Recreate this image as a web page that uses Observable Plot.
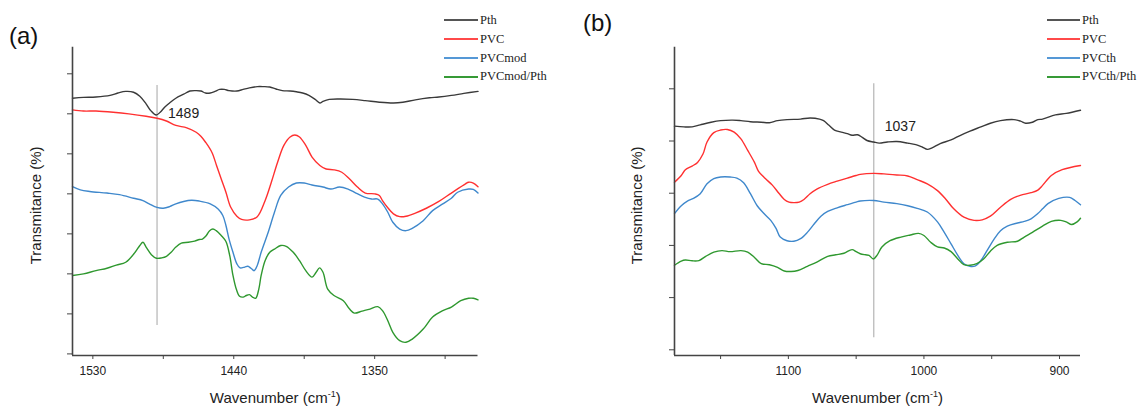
<!DOCTYPE html>
<html><head><meta charset="utf-8">
<script src="https://cdn.jsdelivr.net/npm/d3@7"></script>
<script src="https://cdn.jsdelivr.net/npm/@observablehq/plot@0.6"></script>
<style>
html,body{margin:0;padding:0;background:#fff;}
#wrap{position:relative;width:1137px;height:409px;overflow:hidden;background:#fff;}
.panel{position:absolute;top:0;}
.plabel{position:absolute;font-family:"Liberation Sans",Arial,sans-serif;font-size:24px;line-height:24px;color:#111;}
.leg{position:absolute;display:flex;align-items:center;height:16px;font-family:"Liberation Serif","Times New Roman",serif;font-size:12.5px;color:#222;white-space:nowrap;}
.leg .sw{display:inline-block;height:2px;margin-right:2px;}
</style></head><body><div id="wrap"></div>
<script>
// ---------- Panel (a) data: [wavenumber, transmittance (arb. units)] ----------
const namesA = ["Pth", "PVC", "PVCmod", "PVCmod/Pth"];
const aPth = [[1543,63.9],[1536,64.1],[1528,64.2],[1519,64.6],[1514,65.2],[1509,65.6],[1504,65.4],[1500,64.4],[1496,62.5],[1493,60.8],[1489.5,59.7],[1487,60.4],[1484,61.7],[1481,62.7],[1477,63.9],[1472,64.9],[1468,65.7],[1464,65.8],[1461,65.7],[1458,65.2],[1455,65.2],[1452,65.6],[1449,66.1],[1446,66.1],[1443,65.8],[1438,65.7],[1434,66.1],[1430,66.5],[1425,66.8],[1421,66.8],[1417,66.7],[1413,66.2],[1409,65.8],[1404,65.7],[1400,65.5],[1396,65.2],[1392,64.6],[1388,63.6],[1385,62.7],[1383,63.1],[1379,63.6],[1372,63.7],[1364,63.6],[1356,63.3],[1347,62.9],[1338,62.7],[1332,62.9],[1324,63.5],[1315,64.0],[1309,64.2],[1301,64.6],[1293,65.1],[1284,65.6]];
const aPVC = [[1543,61.0],[1536,60.7],[1528,60.7],[1517,60.4],[1507,60.0],[1496,59.4],[1489,58.9],[1483,58.2],[1477,57.1],[1470,56.5],[1464,55.4],[1461,54.4],[1458,52.9],[1454,50.4],[1451,47.1],[1448,43.7],[1445,40.4],[1442,36.7],[1438,34.4],[1435,33.6],[1430,33.5],[1425,34.3],[1420,38.3],[1416,42.9],[1412,47.9],[1408,52.1],[1404,54.2],[1401,54.7],[1398,54.2],[1394,52.1],[1390,49.2],[1385,47.1],[1381,46.2],[1376,46.0],[1371,45.4],[1366,43.7],[1361,41.7],[1356,40.2],[1350,40.0],[1347,39.6],[1345,38.3],[1342,36.7],[1338,35.0],[1334,34.3],[1330,34.4],[1324,35.2],[1317,36.4],[1309,38.1],[1301,40.2],[1292,42.5],[1290,42.9],[1287,42.7],[1284,41.8]];
const aPVCmod = [[1543,41.8],[1538,41.0],[1532,40.6],[1521,40.2],[1513,39.8],[1504,38.9],[1498,38.3],[1494,37.5],[1489,36.6],[1485,36.4],[1481,36.8],[1477,37.5],[1472,38.1],[1467,38.4],[1462,38.2],[1455,37.5],[1450,36.2],[1447,34.6],[1445,32.1],[1443,28.7],[1440.5,25.4],[1438,22.5],[1436,21.5],[1433,21.7],[1431,21.9],[1429,21.4],[1427,20.8],[1425,22.1],[1422.5,25.4],[1418,30.4],[1414,35.4],[1410,39.6],[1405,41.7],[1400,42.7],[1395,42.7],[1390,42.2],[1383,41.7],[1378,41.2],[1372.5,41.7],[1367,41.2],[1362,40.2],[1356.5,39.2],[1352,38.7],[1348,38.7],[1345,37.5],[1341.6,35.4],[1338.4,32.9],[1334,31.2],[1330,30.8],[1326,31.4],[1319,33.3],[1313,35.8],[1306.5,37.5],[1301,38.9],[1297,40.4],[1290,41.2],[1287,41.1],[1284,40.2]];
const aPVCmodPth = [[1543,19.6],[1536,20.0],[1528,20.8],[1521,21.4],[1515,22.2],[1509,22.9],[1503,25.4],[1500,27.1],[1498,27.9],[1496,26.7],[1492.6,24.8],[1489.4,23.9],[1486,24.0],[1483,24.4],[1480,25.4],[1477,26.7],[1473.5,27.7],[1469,27.9],[1465,28.2],[1462,28.6],[1460,28.7],[1457.5,29.6],[1455.4,30.8],[1453.3,31.2],[1451.2,30.8],[1448,29.6],[1445,28.1],[1442.6,24.6],[1440.5,19.6],[1438.4,16.2],[1436.3,14.4],[1434,14.2],[1432,14.6],[1430,14.8],[1428,14.2],[1426,13.9],[1424,16.2],[1422.5,19.6],[1420,23.3],[1417,25.4],[1414,26.2],[1410,27.1],[1406.5,26.9],[1402,25.4],[1398,23.3],[1394,20.8],[1390,19.2],[1387.4,20.4],[1385.2,21.5],[1383,20.4],[1380,16.2],[1376,14.6],[1370,13.3],[1366,11.2],[1363,10.2],[1358,10.7],[1353,11.2],[1348,11.8],[1345,10.8],[1341.6,8.3],[1338.4,5.4],[1334,3.3],[1330,2.9],[1326,3.7],[1319,6.2],[1313,9.2],[1306.5,10.8],[1301,11.7],[1295,13.3],[1290,13.9],[1287,13.9],[1284,13.5]];
const xDomainA = [1543, 1284];
const yDomainA = [-0.4, 76.65];
const xMajorA = [1530, 1440, 1350];
const xMinorA = [1485, 1395, 1305];
const yTicksA = [0, 10, 20, 30, 40, 50, 60, 70];
const markA = {wn: 1489, from: 7.1, to: 67.1, labelY: 60.0, label: "1489"};

// ---------- Panel (b) data ----------
const namesB = ["Pth", "PVC", "PVCth", "PVCth/Pth"];
const bPth = [[1184,42.85],[1177,42.7],[1171,42.7],[1165,43.1],[1157,43.6],[1150,43.9],[1141,44.0],[1135,43.9],[1128,43.7],[1120,43.6],[1114,43.5],[1108,43.9],[1101,44.1],[1091,44.2],[1084,44.4],[1077,44.2],[1074,43.9],[1070,43.0],[1066,42.1],[1061,41.7],[1056.5,41.4],[1053,41.1],[1049,41.2],[1045.5,40.7],[1042,40.1],[1037,39.8],[1033,39.6],[1027,39.8],[1020,39.9],[1012,39.6],[1006,39.3],[1001,38.8],[997.5,38.4],[994,38.7],[988,39.5],[980,40.2],[973,41.1],[966,41.9],[958,42.7],[951,43.4],[943.5,43.9],[933.6,44.1],[928.7,43.8],[925,43.4],[920,43.6],[916,44.1],[912.5,44.2],[903,45.0],[895,45.3],[884.5,45.9]];
const bPVC = [[1184,32.1],[1179,33.4],[1176,34.5],[1171,35.2],[1167,35.9],[1163,37.5],[1160,39.8],[1155,41.6],[1150,42.1],[1145,42.2],[1140,41.7],[1135,40.4],[1130,38.2],[1125,35.9],[1122,34.2],[1117,32.8],[1112,31.6],[1107,30.0],[1103,28.8],[1099.5,28.3],[1096,28.2],[1092,28.3],[1088.5,28.8],[1084,29.9],[1079,30.8],[1071,31.7],[1064,32.3],[1056.5,32.9],[1050,33.4],[1047,33.6],[1037,33.8],[1029.5,33.7],[1020,33.5],[1012,33.3],[1005,32.6],[997.5,31.8],[990,30.5],[984,28.9],[978,27.0],[970.5,25.4],[963,24.8],[957,24.9],[951,25.6],[943.5,27.3],[936,28.8],[929,29.6],[921,30.1],[916,30.6],[912.5,31.5],[906,33.4],[898,34.5],[884.5,35.3]];
const bPVCth = [[1184,26.1],[1179,27.6],[1174.5,28.5],[1170,29.0],[1165,29.9],[1160,31.8],[1155,32.8],[1150,33.1],[1143,33.1],[1138,32.9],[1133,32.0],[1128,29.9],[1123,27.6],[1118,26.1],[1113,24.8],[1109,23.2],[1106,21.6],[1101,20.9],[1096,20.8],[1091,21.3],[1086,22.5],[1081,24.1],[1076,25.6],[1071,26.5],[1064,27.2],[1056.5,27.8],[1050,28.3],[1047,28.5],[1037,28.6],[1029.5,28.3],[1020,28.0],[1012,27.6],[1005,27.1],[997.5,26.4],[990,24.5],[985,22.5],[980,20.3],[975,18.1],[970.5,16.5],[966,16.0],[962,16.1],[958,17.1],[953,19.2],[948,21.3],[943.5,22.8],[938.5,23.7],[931,24.3],[926,24.6],[921,25.1],[916,26.1],[912.5,27.0],[908.5,28.0],[900.5,29.0],[892.5,29.2],[888.5,28.6],[884.5,27.8]];
const bPVCthPth = [[1184,16.2],[1179,17.0],[1176,17.2],[1171,17.05],[1166,17.1],[1161,17.9],[1155,18.7],[1149,19.0],[1143,18.8],[1135,19.0],[1130,18.7],[1125,17.7],[1120,16.5],[1114,16.3],[1108,15.8],[1103,15.1],[1098,15.0],[1093,15.2],[1086,16.0],[1079,16.8],[1071,17.9],[1065,18.2],[1059,18.5],[1053,19.2],[1050,18.8],[1047,18.4],[1043,18.2],[1040.5,18.1],[1037.3,17.4],[1034.4,18.2],[1031,19.7],[1025,20.9],[1017,21.6],[1010,22.0],[1004,22.3],[1000,21.9],[995,20.6],[990,19.7],[985,19.5],[980,18.8],[975,17.4],[970.5,16.3],[966,16.2],[961,16.5],[956,17.4],[951,18.9],[946,20.0],[938.5,20.6],[931,20.8],[926,21.6],[920,22.5],[912.5,23.7],[906,24.6],[899,24.8],[895,24.5],[891,24.0],[887,24.5],[884.5,25.2]];
const xDomainB = [1184, 884.5];
const yDomainB = [-1.09, 57.97];
const xMajorB = [1100, 1000, 900];
const xMinorB = [1150, 1050, 950];
const yTicksB = [0, 10, 20, 30, 40, 50];
const markB = {wn: 1037, from: 2.3, to: 50.96, labelY: 42.8, label: "1037"};

// ---------- styling ----------
const seriesColors = ["#3a3a3a", "#ff3030", "#3f88cc", "#2f982f"];
const legendColors = ["#555555", "#ff4a4a", "#5598d6", "#369a36"];
const xTitle = "Wavenumber (cm-1)";
const yTitle = "Transmitance (%)";

const wrap = document.getElementById("wrap");

function panel(cfg) {
  const series = cfg.series.map(s => s.map(([wn, t]) => ({wn, t})));
  const plot = Plot.plot({
    width: cfg.width, height: 409,
    marginLeft: cfg.ml, marginRight: cfg.mr, marginTop: 46.7, marginBottom: 54,
    style: {fontFamily: "'Liberation Sans', Arial, sans-serif", fontSize: "12px", color: "#222", background: "transparent", overflow: "visible"},
    x: {domain: cfg.xDomain},
    y: {domain: cfg.yDomain},
    marks: [
      Plot.ruleX([cfg.mark], {x: "wn", y1: "from", y2: "to", stroke: "#b4b4b4", strokeWidth: 1.2}),
      ...series.map((s, i) => Plot.line(s, {x: "wn", y: "t", stroke: seriesColors[i], strokeWidth: 1.4, curve: "catmull-rom"})),
      Plot.text([cfg.mark], {x: "wn", y: "labelY", text: "label", textAnchor: "start", dx: 11, fontSize: 14, fill: "#222", lineAnchor: "middle"}),
      Plot.ruleX([cfg.xDomain[0]], {stroke: "#444", strokeWidth: 1.6}),
      Plot.ruleY([cfg.yDomain[0]], {stroke: "#444", strokeWidth: 1.6}),
      Plot.axisX({ticks: cfg.xMajor, tickSize: 4, tickPadding: 7, tickFormat: d => String(d), label: null, stroke: "#444", fill: "#222", fontSize: 12}),
      Plot.axisX({ticks: cfg.xMinor, tickSize: 4, tickFormat: () => "", label: null, stroke: "#444"}),
      Plot.axisY({ticks: cfg.yTicks, tickSize: 5, tickFormat: () => "", label: null, stroke: "#444"}),
      Plot.text([xTitle], {frameAnchor: "bottom", dy: 43, fontSize: 15, fill: "#222", lineAnchor: "middle", textAnchor: "middle"}),
      Plot.text([yTitle], {frameAnchor: "left", rotate: -90, dx: cfg.ytdx, dy: 4, fontSize: 15, fill: "#222", lineAnchor: "middle", textAnchor: "middle"})
    ]
  });
  plot.classList.add("panel");
  plot.style.left = cfg.left + "px";
  plot.style.position = "absolute";
  plot.style.top = "0px";
  // superscript in the x title
  plot.querySelectorAll("text").forEach(t => {
    if (t.textContent === xTitle) {
      t.textContent = "";
      const ns = "http://www.w3.org/2000/svg";
      const a = document.createElementNS(ns, "tspan"); a.textContent = "Wavenumber (cm";
      const b = document.createElementNS(ns, "tspan"); b.textContent = "-1"; b.setAttribute("dy", "-6"); b.setAttribute("font-size", "9");
      const c = document.createElementNS(ns, "tspan"); c.textContent = ")"; c.setAttribute("dy", "6");
      t.append(a, b, c);
    }
  });
  wrap.appendChild(plot);

  // panel label
  const pl = document.createElement("div");
  pl.className = "plabel"; pl.textContent = cfg.tag;
  pl.style.left = cfg.tagX + "px"; pl.style.top = cfg.tagY + "px";
  wrap.appendChild(pl);

  // legend
  const rows = [12, 31, 50, 68.7];
  cfg.names.forEach((n, i) => {
    const d = document.createElement("div");
    d.className = "leg";
    d.style.left = cfg.legX + "px"; d.style.top = rows[i] + "px";
    const sw = document.createElement("span");
    sw.className = "sw"; sw.style.width = cfg.legW + "px"; sw.style.background = legendColors[i];
    const tx = document.createElement("span"); tx.textContent = n;
    d.append(sw, tx);
    wrap.appendChild(d);
  });
}

panel({left: 0, width: 560, ml: 72, mr: 82.5, xDomain: xDomainA, yDomain: yDomainA,
  xMajor: xMajorA, xMinor: xMinorA, yTicks: yTicksA, mark: markA,
  series: [aPth, aPVC, aPVCmod, aPVCmodPth], names: namesA, ytdx: -36.3,
  tag: "(a)", tagX: 9, tagY: 24, legX: 444, legW: 34});

panel({left: 570, width: 567, ml: 104, mr: 57, xDomain: xDomainB, yDomain: yDomainB,
  xMajor: xMajorB, xMinor: xMinorB, yTicks: yTicksB, mark: markB,
  series: [bPth, bPVC, bPVCth, bPVCthPth], names: namesB, ytdx: -37,
  tag: "(b)", tagX: 583, tagY: 10.5, legX: 1047, legW: 33});
</script></body></html>
